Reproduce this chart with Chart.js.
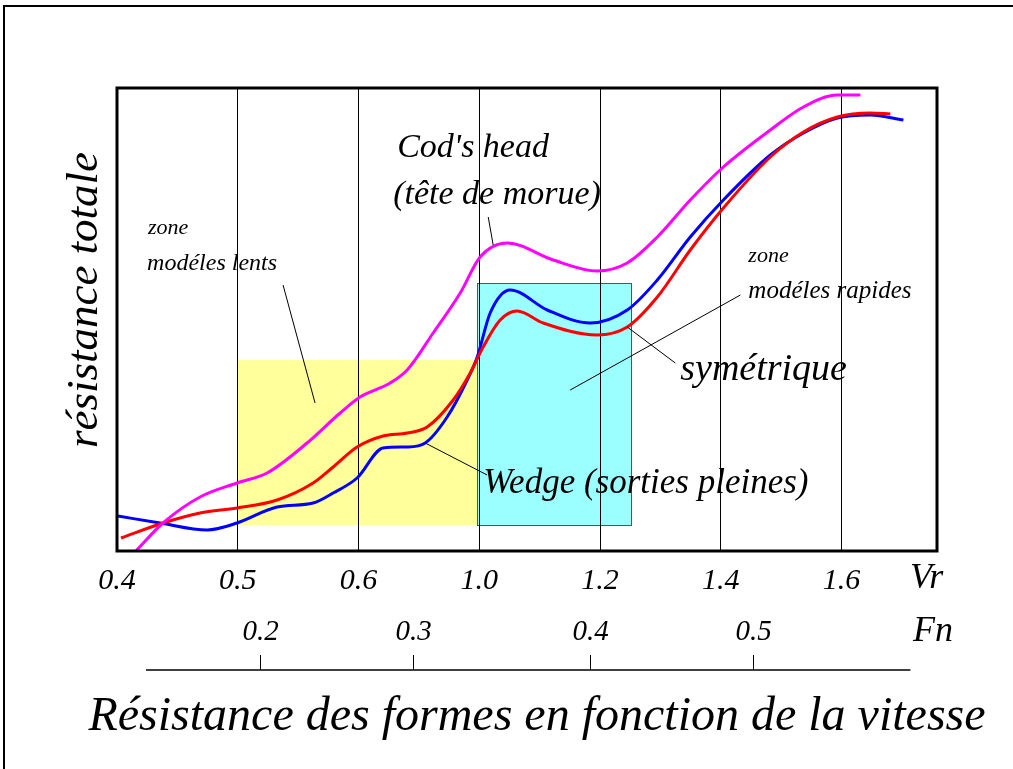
<!DOCTYPE html>
<html>
<head>
<meta charset="utf-8">
<script src="https://cdn.jsdelivr.net/npm/chart.js@4/dist/chart.umd.min.js"></script>
<style>
  body { margin: 0; background: #fff; }
</style>
</head>
<body>
<canvas id="chart" width="1013" height="769"></canvas>
<script>
// x positions are on the drawing's Vr axis (0 = 0.4, 1 = 0.5, 2 = 0.6, 3 = 1.0 ...)
var vrLabels = ["0.4", "0.5", "0.6", "1.0", "1.2", "1.4", "1.6"];
var fnLabels = ["0.2", "0.3", "0.4", "0.5"];
var fnPositions = [1.185, 2.452, 3.919, 5.269];

// Cod's head (magenta)
var codX = [0.157, 0.381, 0.688, 0.994, 1.243, 1.574, 1.848, 2.013, 2.262, 2.403, 2.618, 2.842, 3.007, 3.231, 3.612, 3.977, 4.225, 4.474, 4.747, 5.021, 5.410, 5.684, 5.965, 6.156];
var codY = [0, 28, 54, 68, 78, 108, 138, 154, 168, 181, 218, 258, 294, 308, 291, 280, 288, 314, 351, 384, 421, 444, 456, 456];

// symetrique (blue)
var symX = [0.008, 0.356, 0.746, 0.994, 1.326, 1.624, 1.790, 1.988, 2.204, 2.403, 2.552, 2.734, 2.900, 2.983, 3.090, 3.256, 3.563, 3.919, 4.225, 4.474, 4.747, 5.021, 5.410, 5.684, 5.965, 6.239, 6.512];
var symY = [35, 28, 21, 28, 44, 48, 58, 73, 103, 104, 108, 134, 171, 194, 238, 261, 241, 228, 241, 271, 314, 351, 396, 418, 433, 436, 431];

// Wedge (red)
var wedgeX = [0.033, 0.381, 0.688, 0.994, 1.326, 1.624, 1.790, 1.988, 2.204, 2.403, 2.568, 2.784, 2.925, 3.032, 3.173, 3.314, 3.529, 3.977, 4.225, 4.474, 4.747, 5.021, 5.410, 5.684, 5.965, 6.239, 6.404];
var wedgeY = [13, 28, 38, 43, 51, 68, 84, 104, 115, 118, 124, 151, 178, 204, 231, 240, 228, 216, 224, 254, 301, 343, 394, 419, 434, 438, 437];

// zones: [xMin, xMax, yMin, yMax]
var slowZone = [0.994, 2.983, 26, 191];
var fastZone = [2.983, 4.259, 26, 268];

function toPoints(xs, ys) {
  var pts = [];
  for (var i = 0; i < xs.length; i++) {
    pts.push({x: xs[i], y: ys[i]});
  }
  return pts;
}

var serif = "'Liberation Serif', serif";

// texts in data units: [text, x, y, size]
var notes = [
  ["Cod's head", 2.32, 403, 34],
  ["(tête de morue)", 2.287, 356, 34],
  ["zone", 0.257, 323, 22],
  ["modéles lents", 0.249, 287, 24],
  ["zone", 5.228, 295, 22],
  ["modéles rapides", 5.228, 260, 25],
  ["symétrique", 4.664, 181, 38],
  ["Wedge (sorties pleines)", 3.032, 67, 35]
];
// leader lines [x1, y1, x2, y2]
var leaders = [
  [1.375, 266, 1.640, 148],
  [3.074, 334, 3.115, 306],
  [5.162, 256, 3.753, 161],
  [4.225, 224, 4.623, 188],
  [2.552, 108, 3.065, 76]
];

var decorPlugin = {
  id: "decor",
  beforeDraw: function(chart) {
    var ctx = chart.ctx;
    var x = chart.scales.x, y = chart.scales.y;
    ctx.save();
    // outer frame
    ctx.strokeStyle = "#000";
    ctx.lineWidth = 2;
    ctx.strokeRect(4, 6, 1100, 900);
    // slow models zone
    ctx.fillStyle = "#ffff9c";
    ctx.fillRect(x.getPixelForValue(slowZone[0]), y.getPixelForValue(slowZone[3]),
      x.getPixelForValue(slowZone[1]) - x.getPixelForValue(slowZone[0]),
      y.getPixelForValue(slowZone[2]) - y.getPixelForValue(slowZone[3]));
    // fast models zone
    var fx = x.getPixelForValue(fastZone[0]), fy = y.getPixelForValue(fastZone[3]);
    var fw = x.getPixelForValue(fastZone[1]) - fx, fh = y.getPixelForValue(fastZone[2]) - fy;
    ctx.fillStyle = "#9bffff";
    ctx.fillRect(fx, fy, fw, fh);
    ctx.strokeStyle = "#555";
    ctx.lineWidth = 1;
    ctx.strokeRect(Math.round(fx) + 0.5, Math.round(fy) + 0.5, Math.round(fw), Math.round(fh));
    ctx.restore();
  },
  afterDraw: function(chart) {
    var ctx = chart.ctx;
    var x = chart.scales.x, y = chart.scales.y;
    var area = chart.chartArea;
    ctx.save();
    // plot frame
    ctx.strokeStyle = "#000";
    ctx.lineWidth = 3;
    ctx.strokeRect(area.left, area.top, area.right - area.left, area.bottom - area.top);

    // leader lines
    ctx.lineWidth = 1;
    leaders.forEach(function(l) {
      ctx.beginPath();
      ctx.moveTo(x.getPixelForValue(l[0]), y.getPixelForValue(l[1]));
      ctx.lineTo(x.getPixelForValue(l[2]), y.getPixelForValue(l[3]));
      ctx.stroke();
    });

    // notes
    ctx.fillStyle = "#000";
    ctx.textAlign = "left";
    ctx.textBaseline = "middle";
    notes.forEach(function(n) {
      ctx.font = "italic " + n[3] + "px " + serif;
      ctx.fillText(n[0], x.getPixelForValue(n[1]), y.getPixelForValue(n[2]));
    });

    // Vr label
    ctx.font = "italic 36px " + serif;
    ctx.fillText("Vr", 910, area.bottom + 28);

    // Fn axis
    var fnY = area.bottom + 119;
    ctx.lineWidth = 1.5;
    ctx.beginPath();
    ctx.moveTo(x.getPixelForValue(0.24), fnY);
    ctx.lineTo(x.getPixelForValue(6.57), fnY);
    ctx.stroke();
    ctx.lineWidth = 1;
    ctx.font = "italic 29px " + serif;
    ctx.textAlign = "center";
    for (var i = 0; i < fnLabels.length; i++) {
      var px = Math.round(x.getPixelForValue(fnPositions[i])) + 0.5;
      ctx.beginPath();
      ctx.moveTo(px, fnY - 15);
      ctx.lineTo(px, fnY);
      ctx.stroke();
      ctx.fillText(fnLabels[i], px, area.bottom + 81);
    }
    ctx.textAlign = "left";
    ctx.font = "italic 36px " + serif;
    ctx.fillText("Fn", 913, area.bottom + 81);

    // y title
    ctx.save();
    ctx.translate(85, 300);
    ctx.rotate(-Math.PI / 2);
    ctx.textAlign = "center";
    ctx.font = "italic 45px " + serif;
    ctx.fillText("résistance totale", 0, 0);
    ctx.restore();

    // main title
    ctx.textAlign = "center";
    ctx.font = "italic 48px " + serif;
    ctx.fillText("Résistance des formes en fonction de la vitesse", 537, 717);
    ctx.restore();
  }
};

function lineSet(label, xs, ys, colour) {
  return {
    label: label,
    data: toPoints(xs, ys),
    borderColor: colour,
    borderWidth: 3,
    pointRadius: 0,
    fill: false,
    cubicInterpolationMode: "monotone"
  };
}

var ctx = document.getElementById("chart").getContext("2d");
var chart = new Chart(ctx, {
  type: "line",
  data: {
    datasets: [
      lineSet("Cod's head", codX, codY, "#ff00ff"),
      lineSet("Wedge", wedgeX, wedgeY, "#ff0000"),
      lineSet("symétrique", symX, symY, "#0000ff")
    ]
  },
  options: {
    responsive: false,
    animation: false,
    layout: { padding: { left: 117, top: 88, right: 76, bottom: 0 } },
    plugins: {
      legend: { display: false },
      tooltip: { enabled: false }
    },
    scales: {
      x: {
        type: "linear",
        min: 0,
        max: 6.79,
        border: { display: false },
        grid: { color: "#000", lineWidth: 1, drawTicks: false },
        afterBuildTicks: function(scale) {
          scale.ticks = [];
          for (var i = 0; i < vrLabels.length; i++) scale.ticks.push({value: i});
        },
        afterFit: function(scale) { scale.height = 218; },
        ticks: {
          padding: 12,
          maxRotation: 0,
          color: "#000",
          font: { family: serif, style: "italic", size: 30 },
          callback: function(value) { return vrLabels[value]; }
        }
      },
      y: {
        display: false,
        min: 0,
        max: 463
      }
    }
  },
  plugins: [decorPlugin]
});
</script>
</body>
</html>
